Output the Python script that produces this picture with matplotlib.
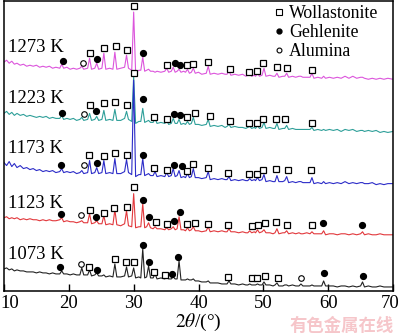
import matplotlib
matplotlib.use("Agg")
import matplotlib.pyplot as plt
import matplotlib.transforms as mtransforms
from matplotlib.lines import Line2D

plt.rcParams['font.family'] = ['Liberation Serif', 'DejaVu Serif']
plt.rcParams['mathtext.fontset'] = 'stix'

# 2theta grid (deg) shared by all patterns
two_theta = [
    10.0, 10.4, 10.8, 11.2, 11.6, 12.0, 12.5, 13.0, 13.5, 14.0,
    14.5, 15.0, 15.5, 16.0, 16.5, 17.0, 17.5, 18.0, 18.6, 18.9,
    19.2, 19.7, 20.2, 20.7, 21.2, 21.7, 22.0, 22.3, 22.9, 23.2,
    23.5, 24.0, 24.3, 24.6, 25.1, 25.4, 25.7, 26.3, 26.8, 27.1,
    27.4, 28.0, 28.6, 28.9, 29.2, 29.7, 30.0, 30.3, 30.8, 31.1,
    31.4, 31.7, 32.0, 32.3, 32.6, 33.0, 33.3, 33.6, 34.2, 34.8,
    35.1, 35.4, 35.8, 36.1, 36.4, 36.7, 37.0, 37.3, 37.7, 38.0,
    38.3, 38.6, 38.9, 39.2, 39.5, 40.0, 40.5, 41.2, 41.5, 41.8,
    42.4, 43.0, 43.6, 44.1, 44.4, 44.7, 45.0, 45.6, 46.2, 46.8,
    47.3, 47.6, 47.9, 48.2, 48.6, 48.8, 49.1, 49.4, 49.8, 50.1,
    50.4, 51.0, 51.5, 51.8, 52.1, 52.4, 53.0, 53.3, 53.6, 53.9,
    54.5, 55.0, 55.5, 55.8, 56.1, 56.7, 57.2, 57.5, 57.8, 58.4,
    59.0, 59.3, 59.6, 60.2, 60.8, 61.4, 62.0, 62.6, 63.2, 63.8,
    64.4, 65.0, 65.3, 65.6, 66.2, 66.8, 67.4, 68.0, 68.6, 69.2,
    70.0]

# intensities (a.u., already stacked)
i_1273 = [
    227, 229, 226, 228, 225, 226, 224, 225, 223, 224,
    223, 224, 222, 223, 222, 223, 221, 222, 221, 225,
    221, 222, 220, 221, 220, 221, 223, 220, 221, 231,
    220, 221, 226, 220, 221, 236, 220, 221, 220, 237,
    220, 221, 222, 234, 221, 219, 277, 217, 219, 219,
    232, 218, 219, 220, 218, 218, 217, 218, 217, 218,
    221, 217, 218, 222, 217, 218, 220, 217, 218, 217,
    220, 216, 217, 221, 216, 217, 215, 216, 223, 215,
    216, 215, 216, 215, 215, 218, 214, 215, 214, 215,
    213, 214, 216, 213, 214, 213, 216, 213, 214, 221,
    213, 214, 213, 213, 216, 212, 213, 213, 216, 212,
    213, 212, 213, 213, 212, 212, 212, 216, 211, 212,
    211, 213, 211, 212, 211, 212, 211, 213, 211, 213,
    211, 212, 212, 211, 210, 211, 210, 211, 210, 211,
    210]
i_1223 = [
    176, 178, 175, 177, 174, 176, 174, 175, 173, 174,
    173, 172, 173, 172, 173, 171, 172, 171, 171, 174,
    170, 171, 170, 171, 169, 170, 172, 169, 170, 176,
    169, 170, 173, 169, 170, 179, 169, 170, 169, 180,
    169, 169, 171, 178, 170, 168, 213, 166, 168, 168,
    181, 167, 168, 169, 167, 167, 171, 166, 167, 166,
    169, 165, 166, 171, 166, 166, 170, 165, 166, 165,
    168, 165, 166, 172, 165, 165, 164, 165, 170, 163,
    164, 163, 164, 162, 163, 165, 162, 163, 162, 162,
    161, 162, 163, 161, 162, 161, 164, 161, 162, 167,
    161, 162, 161, 161, 166, 160, 161, 161, 164, 160,
    161, 160, 160, 160, 160, 160, 160, 162, 159, 160,
    159, 160, 159, 160, 159, 160, 158, 160, 159, 160,
    158, 159, 159, 158, 159, 158, 159, 157, 158, 157,
    158]
i_1173 = [
    127, 124, 128, 123, 126, 122, 124, 121, 122, 120,
    121, 119, 120, 118, 119, 118, 119, 117, 118, 121,
    117, 118, 117, 118, 116, 117, 119, 116, 117, 129,
    116, 117, 122, 116, 117, 129, 116, 117, 116, 131,
    116, 116, 118, 130, 117, 115, 209, 113, 115, 115,
    131, 114, 115, 116, 114, 114, 118, 113, 114, 113,
    117, 113, 114, 121, 113, 114, 119, 112, 113, 112,
    116, 112, 113, 121, 112, 112, 111, 112, 118, 110,
    111, 110, 111, 110, 110, 113, 109, 110, 109, 110,
    109, 109, 111, 109, 110, 109, 112, 109, 110, 115,
    108, 109, 108, 108, 114, 108, 108, 109, 113, 107,
    108, 107, 108, 108, 107, 107, 107, 112, 106, 107,
    106, 108, 106, 107, 106, 107, 106, 108, 106, 107,
    106, 107, 107, 106, 106, 107, 105, 106, 105, 106,
    106]
i_1123 = [
    72, 73, 71, 72, 71, 72, 70, 71, 70, 71,
    70, 70, 69, 70, 69, 70, 69, 69, 70, 72,
    68, 69, 68, 68, 67, 68, 69, 67, 67, 76,
    66, 67, 69, 66, 66, 74, 65, 66, 65, 80,
    65, 64, 66, 79, 64, 63, 96, 62, 63, 63,
    86, 62, 63, 67, 62, 61, 63, 61, 61, 60,
    62, 60, 61, 63, 60, 61, 73, 60, 60, 59,
    62, 59, 60, 63, 59, 59, 58, 59, 63, 58,
    59, 58, 59, 58, 58, 61, 58, 58, 57, 58,
    57, 57, 59, 57, 58, 57, 60, 57, 58, 60,
    57, 57, 56, 57, 61, 56, 57, 57, 59, 56,
    57, 56, 57, 56, 56, 57, 56, 58, 56, 56,
    56, 59, 55, 56, 56, 55, 56, 56, 55, 56,
    55, 56, 58, 55, 56, 55, 55, 56, 55, 55,
    55]
i_1073 = [
    21, 22, 20, 21, 19, 20, 19, 19, 18, 18,
    18, 17, 18, 17, 17, 16, 17, 16, 16, 19,
    16, 16, 15, 16, 15, 15, 22, 15, 15, 20,
    14, 15, 17, 14, 14, 15, 13, 14, 13, 26,
    13, 13, 14, 23, 13, 14, 22, 12, 13, 12,
    41, 12, 13, 24, 12, 12, 16, 11, 12, 11,
    13, 11, 11, 13, 11, 11, 29, 10, 10, 10,
    11, 10, 10, 11, 9, 9, 8, 8, 9, 7,
    7, 7, 6, 6, 6, 9, 6, 6, 5, 6,
    5, 5, 6, 5, 5, 5, 6, 5, 5, 8,
    5, 5, 4, 5, 7, 4, 4, 5, 5, 4,
    5, 4, 4, 6, 4, 4, 4, 5, 4, 4,
    4, 9, 4, 4, 4, 3, 4, 4, 3, 4,
    3, 4, 8, 3, 4, 3, 3, 4, 3, 3,
    3]

samples = ["1273 K", "1223 K", "1173 K", "1123 K", "1073 K"]
patterns = [i_1273, i_1223, i_1173, i_1123, i_1073]
colors = ["#dc55dc", "#2e9f99", "#2c2cc8", "#e2383c", "#222222"]

# phase markers: sample -> (2theta, height)
wollastonite = {
    "1273 K": ([23.2, 25.5, 27.2, 29.0, 30.0, 35.2, 38.3, 39.2, 41.5, 44.8, 47.8, 49.1, 50.0, 52.1, 53.6, 57.5],
               [236, 241, 243, 239, 283, 224, 224, 225, 227, 220, 217, 218, 226, 222, 221, 219]),
    "1223 K": ([23.2, 25.5, 27.1, 28.9, 30.0, 33.2, 35.2, 38.3, 39.5, 41.7, 44.8, 47.8, 49.1, 50.0, 52.0, 53.4, 57.5],
               [184, 186, 187, 184, 216, 172, 170, 172, 176, 173, 168, 166, 166, 170, 170, 170, 166]),
    "1173 K": ([23.1, 25.4, 27.1, 28.9, 33.2, 35.1, 38.3, 39.1, 41.4, 44.6, 47.8, 49.1, 50.0, 52.0, 53.8, 57.4],
               [135, 134, 137, 135, 122, 120, 119, 126, 122, 117, 116, 116, 120, 121, 120, 120]),
    "1123 K": ([23.2, 25.4, 26.9, 28.9, 30.0, 33.4, 35.1, 38.2, 39.4, 41.4, 44.6, 48.2, 49.2, 50.2, 52.0, 53.7, 57.5],
               [80, 77, 82, 83, 103, 68, 66, 66, 67, 66, 65, 64, 65, 67, 68, 65, 65]),
    "1073 K": ([23.1, 27.1, 28.8, 30.0, 33.2, 34.8, 44.6, 48.2, 49.1, 50.3, 52.3],
               [23, 31, 28, 28, 18, 15, 13, 12, 12, 14, 12]),
}
gehlenite = {
    "1273 K": ([19.1, 24.3, 31.5, 36.3, 37.2], [228, 230, 236, 226, 224]),
    "1223 K": ([18.9, 24.2, 31.5, 36.2, 37.1], [176, 178, 190, 175, 174]),
    "1173 K": ([18.8, 24.3, 31.5, 36.2, 37.4], [125, 127, 135, 125, 124]),
    "1123 K": ([18.8, 24.2, 31.5, 32.3, 36.2, 37.1, 59.2, 65.2], [76, 73, 90, 73, 69, 78, 67, 65]),
    "1073 K": ([18.6, 24.3, 31.5, 32.3, 35.9, 36.9, 59.4, 65.4], [23, 20, 45, 28, 16, 33, 17, 14]),
}
alumina = {
    "1273 K": ([22.2], [226]),
    "1223 K": ([22.3], [175]),
    "1173 K": ([22.3], [125]),
    "1123 K": ([21.8], [75]),
    "1073 K": ([21.8, 55.8], [26, 12]),
}

fig = plt.figure(figsize=(4.0, 3.36), dpi=100)
ax = fig.add_axes([0.01, 0.134, 0.9725, 0.863])

for name, y, c in zip(samples, patterns, colors):
    ax.plot(two_theta, y, color=c, lw=0.8)
    ax.text(10.6, y[0] + 10, name, fontsize=13.5, va='baseline', ha='left')
    wx, wy = wollastonite[name]
    ax.plot(wx, wy, 's', ms=5, mfc='white', mec='black', mew=0.9, ls='none')
    gx, gy = gehlenite[name]
    ax.plot(gx, gy, 'o', ms=4.2, mfc='black', mec='black', ls='none')
    ax_, ay = alumina[name]
    ax.plot(ax_, ay, 'o', ms=4, mfc='white', mec='black', mew=0.8, ls='none')

handles = [
    Line2D([], [], marker='s', ls='none', ms=4, mfc='white', mec='black', mew=0.8),
    Line2D([], [], marker='o', ls='none', ms=3.5, mfc='black', mec='black'),
    Line2D([], [], marker='o', ls='none', ms=3.5, mfc='white', mec='black', mew=0.8),
]
ax.legend(handles, ["Wollastonite", "Gehlenite", "Alumina"], loc='upper right',
          bbox_to_anchor=(0.995, 1.03), frameon=False, fontsize=12.8,
          handlelength=0.6, handletextpad=0.3, labelspacing=0.12, borderpad=0.2)

ax.set_xlim(10, 70)
ax.set_ylim(-1, 288)
ax.set_xticks([10, 20, 30, 40, 50, 60, 70])
ax.set_yticks([])
ax.tick_params(axis='x', direction='in', length=5, width=1.0, labelsize=13.5, pad=3)
for s in ax.spines.values():
    s.set_linewidth(1.1)
ax.set_xlabel(r'$\mathit{2\theta}$/(°)', fontsize=14, labelpad=0)

# keep the edge tick labels inside the figure
labels = ax.get_xticklabels()
labels[0].set_transform(labels[0].get_transform()
                        + mtransforms.ScaledTranslation(0.055, 0, fig.dpi_scale_trans))
labels[-1].set_transform(labels[-1].get_transform()
                         + mtransforms.ScaledTranslation(-0.03, 0, fig.dpi_scale_trans))

fig.text(0.855, 0.03, "有色金属在线", color='#f6c6ca', fontsize=12.5, fontweight='bold',
         family=['Noto Sans CJK SC', 'DejaVu Sans'], ha='center', va='center')

fig.savefig("out.png", dpi=100)
